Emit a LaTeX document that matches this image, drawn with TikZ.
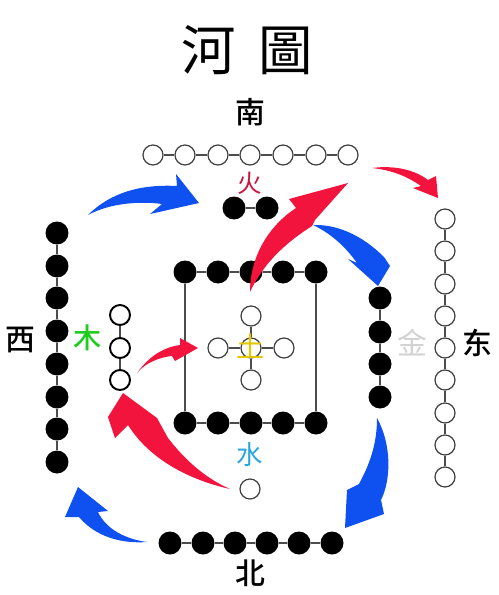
\documentclass[tikz,border=0pt]{standalone}
\usepackage{fontspec}
\usepackage{tikz}
\newfontfamily\cjk{Noto Sans CJK SC}
\newfontfamily\cjkmed{Noto Sans CJK SC Medium}
\newfontfamily\cjktc{Noto Sans CJK TC}
\definecolor{firered}{HTML}{C8163C}
\definecolor{woodgreen}{HTML}{1ECC1E}
\definecolor{earthyellow}{HTML}{E2C800}
\definecolor{waterblue}{HTML}{2AA6DE}
\definecolor{metalgray}{HTML}{D2D2D2}
\definecolor{brushblue}{HTML}{0F50F0}
\definecolor{brushred}{HTML}{F2143C}
\tikzset{
  opendot/.style={circle, draw=black!75, fill=white, line width=0.7pt, inner sep=0pt, minimum size=0.4cm},
  soliddot/.style={circle, fill=black, inner sep=0pt, minimum size=0.46cm},
  dirlabel/.style={font=\cjkmed\fontsize{17}{17}\selectfont, inner sep=0pt},
  elemlabel/.style={font=\cjk\fontsize{16}{16}\selectfont, inner sep=0pt}
}

\begin{document}
\begin{tikzpicture}[x=0.02cm, y=-0.02cm]
            \useasboundingbox (0,0) rectangle (499,595);

            % title and the four directions
            \node [font=\cjktc\fontsize{31}{31}\selectfont] (title) at (247,50) {河\hspace{13pt}圖};
            \node [dirlabel] (south) at (250,112) {南};
            \node [dirlabel] (west) at (20,340) {西};
            \node [dirlabel] (east) at (477,343) {东};
            \node [dirlabel] (north) at (250,573) {北};

            % open dots
            \begin{scope}[every node/.style={opendot}]
                \node (t1) at (153,155) {};
                \node (t2) at (185,155) {};
                \node (t3) at (218,155) {};
                \node (t4) at (250,155) {};
                \node (t5) at (283,155) {};
                \node (t6) at (316,155) {};
                \node (t7) at (348,155) {};
                \node [line width=1.1pt, draw=black] (m1) at (120,315) {};
                \node [line width=1.1pt, draw=black] (m2) at (120,348) {};
                \node [line width=1.1pt, draw=black] (m3) at (120,380) {};
                \node (c0) at (251,348) {};
                \node (c1) at (251,316) {};
                \node (c2) at (218,348) {};
                \node (c3) at (284,348) {};
                \node (c4) at (251,380) {};
                \node (e1) at (445,219) {};
                \node (e2) at (445,251) {};
                \node (e3) at (445,284) {};
                \node (e4) at (445,316) {};
                \node (e5) at (445,348) {};
                \node (e6) at (445,380) {};
                \node (e7) at (445,413) {};
                \node (e8) at (445,445) {};
                \node (e9) at (445,477) {};
                \node (s1) at (250,489) {};
            \end{scope}

            % solid dots
            \begin{scope}[every node/.style={soliddot}]
                \node (f1) at (234,208) {};
                \node (f2) at (267,208) {};
                \node (w1) at (57,233) {};
                \node (w2) at (57,266) {};
                \node (w3) at (57,298) {};
                \node (w4) at (57,331) {};
                \node (w5) at (57,364) {};
                \node (w6) at (57,397) {};
                \node (w7) at (57,429) {};
                \node (w8) at (57,462) {};
                \node (q1) at (185,272) {};
                \node (q2) at (218,272) {};
                \node (q3) at (251,272) {};
                \node (q4) at (283,272) {};
                \node (q5) at (316,272) {};
                \node (q6) at (185,423) {};
                \node (q7) at (218,423) {};
                \node (q8) at (251,423) {};
                \node (q9) at (283,423) {};
                \node (q10) at (316,423) {};
                \node (r1) at (380,298) {};
                \node (r2) at (380,332) {};
                \node (r3) at (380,364) {};
                \node (r4) at (380,397) {};
                \node (b1) at (170,543) {};
                \node (b2) at (203,543) {};
                \node (b3) at (235,543) {};
                \node (b4) at (267,543) {};
                \node (b5) at (299,543) {};
                \node (b6) at (332,543) {};
            \end{scope}

            \begin{scope}[every edge/.style={draw=black!70, line width=0.8pt}]
                \path [-] (t1) edge (t2);
                \path [-] (t2) edge (t3);
                \path [-] (t3) edge (t4);
                \path [-] (t4) edge (t5);
                \path [-] (t5) edge (t6);
                \path [-] (t6) edge (t7);
                \path [-] (f1) edge (f2);
                \path [-] (w1) edge (w2);
                \path [-] (w2) edge (w3);
                \path [-] (w3) edge (w4);
                \path [-] (w4) edge (w5);
                \path [-] (w5) edge (w6);
                \path [-] (w6) edge (w7);
                \path [-] (w7) edge (w8);
                \path [-] (m1) edge (m2);
                \path [-] (m2) edge (m3);
                \path [-] (q1) edge (q2);
                \path [-] (q2) edge (q3);
                \path [-] (q3) edge (q4);
                \path [-] (q4) edge (q5);
                \path [-] (q6) edge (q7);
                \path [-] (q7) edge (q8);
                \path [-] (q8) edge (q9);
                \path [-] (q9) edge (q10);
                \path [-] (q1) edge (q6);
                \path [-] (q5) edge (q10);
                \path [-] (c0) edge (c1);
                \path [-] (c0) edge (c2);
                \path [-] (c0) edge (c3);
                \path [-] (c0) edge (c4);
                \path [-] (r1) edge (r2);
                \path [-] (r2) edge (r3);
                \path [-] (r3) edge (r4);
                \path [-] (e1) edge (e2);
                \path [-] (e2) edge (e3);
                \path [-] (e3) edge (e4);
                \path [-] (e4) edge (e5);
                \path [-] (e5) edge (e6);
                \path [-] (e6) edge (e7);
                \path [-] (e7) edge (e8);
                \path [-] (e8) edge (e9);
                \path [-] (b1) edge (b2);
                \path [-] (b2) edge (b3);
                \path [-] (b3) edge (b4);
                \path [-] (b4) edge (b5);
                \path [-] (b5) edge (b6);
            \end{scope}

            % the five elements
            \node [elemlabel, text=firered, font=\cjk\fontsize{14}{14}\selectfont] (fire) at (250,183) {火};
            \node [elemlabel, text=woodgreen, font=\cjkmed\fontsize{16}{16}\selectfont] (wood) at (88,338) {木};
            \node [elemlabel, text=earthyellow] (earth) at (251,346) {土};
            \node [elemlabel, text=metalgray, font=\cjk\fontsize{17}{17}\selectfont] (metal) at (412,343) {金};
            \node [elemlabel, text=waterblue, font=\cjk\fontsize{15}{15}\selectfont] (water) at (250,455) {水};

            % blue brush arrows
            \fill [brushblue] (88,215) .. controls (110,193) and (140,184) .. (177,186) -- (176,174) -- (199,203) -- (150,214) -- (162,204) .. controls (140,201) and (110,203) .. cycle;
            \fill [brushblue] (313,225) .. controls (342,224) and (367,240) .. (384,257) -- (390,266) -- (378,286) -- (348,259) -- (357,263) .. controls (345,246) and (330,233) .. cycle;
            \fill [brushblue] (377,418) .. controls (392,445) and (391,480) .. (381,500) -- (384,514) -- (345,528) -- (347,490) -- (359,484) .. controls (372,460) and (377,440) .. cycle;
            \fill [brushblue] (147,542) .. controls (125,539) and (106,529) .. (98,512) -- (108,511) -- (78,487) -- (65,517) -- (79,517) .. controls (95,536) and (120,544) .. cycle;

            % red brush arrows
            \fill [brushred] (250,292) .. controls (250,255) and (270,225) .. (296,208) -- (289,199) -- (348,183) -- (315,220) -- (312,226) .. controls (290,240) and (265,260) .. cycle;
            \fill [brushred] (372,168) .. controls (395,165) and (415,170) .. (428,180) -- (436,176) -- (438,198) -- (413,188) -- (421,186) .. controls (405,175) and (390,170) .. cycle;
            \fill [brushred] (137,373) .. controls (150,355) and (165,347) .. (180,345) -- (180,338) -- (198,348) -- (175,361) -- (172,356) .. controls (160,357) and (145,363) .. cycle;
            \fill [brushred] (230,489) .. controls (190,480) and (150,460) .. (128,425) -- (115,438) -- (108,417) -- (123,393) -- (157,418) -- (168,438) .. controls (185,460) and (205,478) .. cycle;
        \end{tikzpicture}
\end{document}
